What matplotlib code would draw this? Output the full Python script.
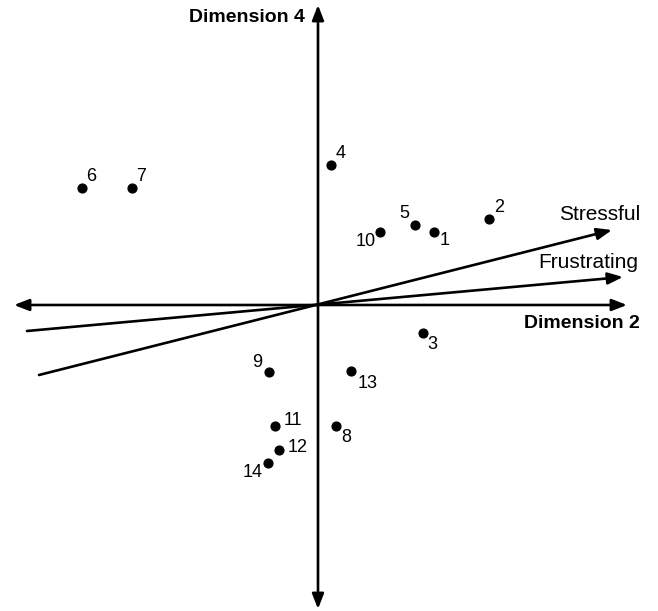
import matplotlib
matplotlib.use("Agg")
import matplotlib.pyplot as plt

plt.rcParams['font.family'] = ['Liberation Sans', 'DejaVu Sans']

# stimulus points (Dimension 2, Dimension 4)
labels = ['1', '2', '3', '4', '5', '6', '7', '8', '9', '10', '11', '12', '13', '14']
dim2 = [1.16, 1.71, 1.05, 0.13, 0.97, -2.36, -1.86, 0.18, -0.49, 0.62, -0.43, -0.39, 0.33, -0.50]
dim4 = [0.73, 0.86, -0.28, 1.40, 0.80, 1.17, 1.17, -1.21, -0.67, 0.73, -1.21, -1.45, -0.66, -1.58]
# label offsets in points
offsets = [(4, -6), (4, 8), (3, -8), (3, 8), (-4, 8), (3, 8), (3, 8), (4, -8),
           (-5, 7), (-3, -7), (6, 4), (6, 2), (5, -9), (-4, -7)]

# property vectors: tip and tail
vec_names = ['Stressful', 'Frustrating']
vec_tip = [(2.94, 0.75), (3.05, 0.28)]
vec_tail = [(-2.79, -0.70), (-2.91, -0.26)]

fig = plt.figure(figsize=(6.58, 6.11), dpi=100)
ax = fig.add_axes([0, 0, 1, 1])
ax.set_xlim(-3.18, 3.40)
ax.set_ylim(-3.06, 3.05)
ax.axis('off')

axis_style = dict(arrowstyle='<|-|>,head_length=0.9,head_width=0.35', color='black',
                  lw=1.9, shrinkA=0, shrinkB=0)
ax.annotate('', xy=(3.09, 0), xytext=(-3.04, 0), arrowprops=axis_style)
ax.annotate('', xy=(0, 3.00), xytext=(0, -3.04), arrowprops=axis_style)

vec_style = dict(arrowstyle='-|>,head_length=0.9,head_width=0.35', color='black',
                 lw=1.9, shrinkA=0, shrinkB=0)
for tip, tail in zip(vec_tip, vec_tail):
    ax.annotate('', xy=tip, xytext=tail, arrowprops=vec_style)

ax.scatter(dim2, dim4, s=40, color='black', zorder=3)
for lab, x, y, off in zip(labels, dim2, dim4, offsets):
    ha = 'left' if off[0] > 0 else 'right'
    ax.annotate(lab, (x, y), xytext=off, textcoords='offset points',
                ha=ha, va='center', fontsize=13)

ax.text(-0.13, 2.87, 'Dimension 4', ha='right', va='center', fontsize=14, fontweight='bold')
ax.text(3.22, -0.18, 'Dimension 2', ha='right', va='center', fontsize=14, fontweight='bold')
ax.text(3.22, 0.90, vec_names[0], ha='right', va='center', fontsize=15)
ax.text(3.20, 0.42, vec_names[1], ha='right', va='center', fontsize=15)

fig.savefig('out.png', dpi=100)
